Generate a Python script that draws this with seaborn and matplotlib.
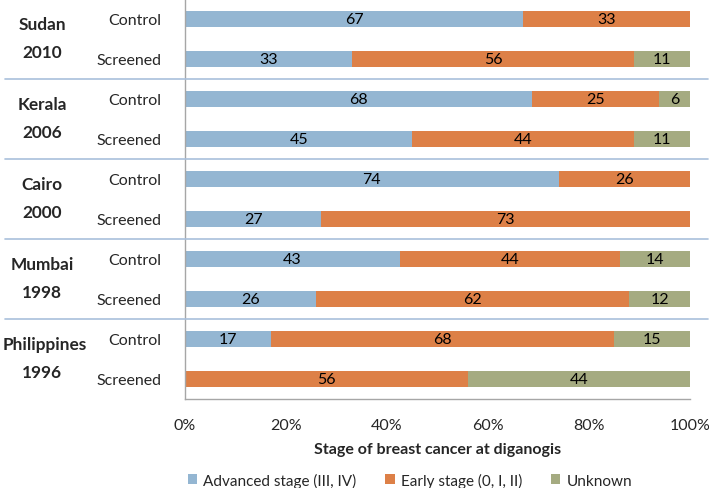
import numpy as np
import pandas as pd
import matplotlib.pyplot as plt
import matplotlib.transforms as mtransforms
from matplotlib.patches import Patch
from matplotlib.lines import Line2D
import seaborn as sns

# data
studies = ["Sudan", "Kerala", "Cairo", "Mumbai", "Philippines"]
years = ["2010", "2006", "2000", "1998", "1996"]
arms = ["Control", "Screened"]
advanced = [67, 33, 68, 45, 74, 27, 43, 26, 17, 0]
early = [33, 56, 25, 44, 26, 73, 44, 62, 68, 56]
unknown = [0, 11, 6, 11, 0, 0, 14, 12, 15, 44]
stage_names = ["Advanced stage (III, IV)", "Early stage (0, I, II)", "Unknown"]
colors = ["#94b6d2", "#dd8047", "#a5ab81"]

rows = [f"{s} {y}|{a}" for s, y in zip(studies, years) for a in arms]
df = pd.DataFrame({"row": rows, "adv": advanced, "early": early, "unk": unknown})
tot = df[["adv", "early", "unk"]].sum(axis=1)
# Excel 100% stacked bars normalise each row
for c in ["adv", "early", "unk"]:
    df[c + "_pct"] = df[c] / tot * 100
df["c1"] = df["adv_pct"]
df["c2"] = df["adv_pct"] + df["early_pct"]
df["c3"] = df["c2"] + df["unk_pct"]

sns.set_style("white")
plt.rcParams["font.family"] = ["Lato", "DejaVu Sans"]

fig = plt.figure(figsize=(7.09, 4.89), dpi=100)
ax = fig.add_axes([185 / 709, 89 / 489, 505 / 709, 400 / 489])

for col, color in zip(["c3", "c2", "c1"], colors[::-1]):
    sns.barplot(data=df, x=col, y="row", order=rows, orient="h", color=color,
                width=0.4, saturation=1, ax=ax, edgecolor="none")

# segment labels
for i, r in df.iterrows():
    starts = [0, r["c1"], r["c2"]]
    widths = [r["adv_pct"], r["early_pct"], r["unk_pct"]]
    vals = [r["adv"], r["early"], r["unk"]]
    for s, w, v in zip(starts, widths, vals):
        if v > 0:
            ax.text(s + w / 2, i, str(v), ha="center", va="center",
                    fontsize=11.5, color="black")

ax.set_xlim(0, 100)
ax.set_ylim(len(rows) - 0.5, -0.5)
ax.set_xticks(np.arange(0, 101, 20))
ax.set_xticklabels([f"{t}%" for t in range(0, 101, 20)], fontsize=11.5)
ax.set_yticks(range(len(rows)))
ax.set_yticklabels([r.split("|")[1] for r in rows], fontsize=11.5)
ax.tick_params(axis="y", length=0, pad=17)
ax.set_yticks(np.arange(-0.5, len(rows), 1), minor=True)
ax.tick_params(axis="y", which="minor", length=5, color="#a6a6a6", direction="out")
ax.tick_params(axis="x", length=5, color="#a6a6a6", direction="out", pad=9)
ax.set_ylabel("")
ax.set_xlabel("Stage of breast cancer at diganogis", fontsize=11.5,
              fontweight="bold", labelpad=7)
for sp in ["top", "right"]:
    ax.spines[sp].set_visible(False)
for sp in ["left", "bottom"]:
    ax.spines[sp].set_color("#a6a6a6")
    ax.spines[sp].set_linewidth(1)

# group separators
trans = mtransforms.blended_transform_factory(fig.transFigure, ax.transData)
for k in range(1, len(studies)):
    y = 2 * k - 0.5
    fig.add_artist(Line2D([5 / 709, 708 / 709], [y, y], transform=trans,
                          color="#a9c0dc", lw=1.2))

# group labels
fig.canvas.draw()
renderer = fig.canvas.get_renderer()
for k, (s, yr) in enumerate(zip(studies, years)):
    yc = 2 * k + 0.5
    t = ax.text(42 / 709, yc - 0.38, s, transform=trans, ha="center", va="center",
                fontsize=12.4, fontweight="bold")
    bb = t.get_window_extent(renderer)
    if bb.x0 < 3:
        t.set_x(t.get_position()[0] + (3 - bb.x0) / 709)
    ax.text(42 / 709, yc + 0.335, yr, transform=trans, ha="center", va="center",
            fontsize=12.4, fontweight="bold")

handles = [Patch(facecolor=c, edgecolor="none") for c in colors]
fig.legend(handles, stage_names, loc="center", bbox_to_anchor=(410 / 709, 1 - 481 / 489),
           ncol=3, frameon=False, fontsize=11, handlelength=0.6, handleheight=0.6,
           handletextpad=0.4, columnspacing=1.9)

fig.savefig("out.png", dpi=100)
